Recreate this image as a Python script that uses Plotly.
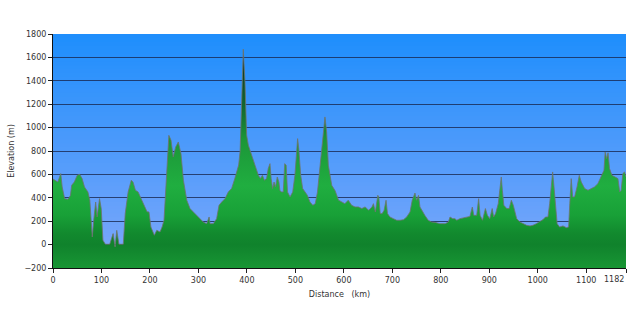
import plotly.graph_objects as go

# ---- data ----
distance_km = [0, 3.5, 10, 16, 19, 24, 31, 36, 38.5, 44, 50, 55, 60, 65, 72, 76, 79, 81, 84, 88,
               91, 96, 99.5, 101, 103, 108, 117, 124, 128, 131.5, 136, 145, 149, 155, 161.5, 165,
               170, 175.5, 182, 190, 194, 198, 202, 209, 214, 220.7, 225, 229, 234.5, 239, 243.5,
               248, 253, 258.5, 264, 269, 276, 282.6, 289.5, 299.7, 310, 317, 322, 324, 330.7,
               337.5, 342.5, 348, 355, 361.6, 368.5, 375, 379, 383, 386, 389, 392.5, 396, 399.5,
               403, 410, 417, 423.6, 428, 432, 436, 440.5, 444, 447.6, 450, 453, 456, 459, 462.6,
               466, 468, 471, 475, 478, 481, 483.7, 489, 494.5, 499, 502.6, 504.6, 507, 511, 515,
               520, 524.7, 530, 536, 541, 545.6, 549, 554, 559, 561, 564.5, 568, 575, 582, 589,
               595.5, 602, 609, 616, 623, 630, 637, 644, 651, 658, 661, 665, 670, 672, 675, 679,
               683, 687, 690, 695, 702, 709, 716, 723, 729.6, 736.5, 741, 746.7, 750, 754, 757,
               762, 767, 774, 781, 788, 798, 809, 815.5, 819, 824.5, 829, 833, 839.5, 846, 853,
               860, 865, 868, 874, 878, 881, 886, 892, 896, 901, 906, 909, 913, 918.5, 922, 924.7,
               927, 930, 936, 941, 945.5, 949.5, 953, 956.5, 963, 970, 977, 984, 990, 997, 1004,
               1011, 1016, 1021, 1024.5, 1028, 1030.7, 1033.5, 1036, 1040, 1045, 1052, 1059,
               1063.6, 1066, 1069, 1072, 1076, 1081, 1085.6, 1089.7, 1096.7, 1103.6, 1110.5, 1117,
               1124, 1131, 1136.6, 1139, 1142, 1145, 1148, 1153, 1160, 1165.4, 1169, 1172, 1175.5,
               1179, 1182]
elevation_m = [560, 550, 535, 607, 492, 393, 387, 421, 507, 535, 592, 601, 564, 492, 450, 379, 150,
               65, 208, 364, 236, 393, 308, 208, 37, 3, 3, 94, -20, 122, 3, 3, 265, 450, 550, 535,
               464, 450, 393, 330, 280, 279, 150, 80, 122, 108, 150, 208, 635, 934, 891, 749, 834,
               877, 778, 550, 379, 308, 279, 236, 193, 179, 236, 179, 179, 222, 336, 364, 393, 450,
               480, 564, 635, 680, 800, 1220, 1670, 1390, 934, 849, 763, 678, 592, 564, 592, 550,
               564, 650, 692, 564, 479, 535, 492, 578, 535, 464, 450, 450, 692, 678, 450, 407, 450,
               592, 849, 906, 820, 592, 479, 450, 421, 364, 336, 350, 450, 592, 820, 1020, 1091,
               962, 678, 507, 460, 380, 364, 350, 379, 336, 322, 322, 308, 322, 293, 322, 350, 279,
               421, 407, 265, 265, 293, 379, 265, 236, 222, 208, 208, 213, 236, 279, 379, 441, 379,
               421, 322, 279, 250, 208, 193, 190, 179, 179, 193, 236, 222, 222, 208, 222, 228, 236,
               241, 321, 250, 250, 393, 250, 208, 308, 250, 222, 308, 236, 265, 350, 492, 578, 464,
               336, 308, 308, 379, 336, 279, 222, 193, 179, 165, 160, 165, 179, 193, 214, 236, 236,
               350, 521, 621, 493, 336, 179, 150, 160, 145, 150, 350, 564, 407, 407, 493, 592, 535,
               479, 464, 479, 493, 521, 578, 635, 791, 735, 785, 650, 592, 578, 564, 450, 464, 607,
               621, 578]

x_tick_values = [0, 100, 200, 300, 400, 500, 600, 700, 800, 900, 1000, 1100, 1182]
x_tick_labels = ["0", "100", "200", "300", "400", "500", "600", "700", "800", "900", "1000", "1100", ""]
end_label = "1182"
y_tick_values = [-200, 0, 200, 400, 600, 800, 1000, 1200, 1400, 1600, 1800]
x_max = 1182
y_min, y_max = -200, 1800

FONT = "DejaVu Sans"

fig = go.Figure()

# baseline for the fill
fig.add_trace(go.Scatter(x=[0, x_max], y=[y_min, y_min], mode="lines",
                         line=dict(width=0, color="rgba(0,0,0,0)"),
                         hoverinfo="skip", showlegend=False))

# elevation profile
span = 1700 - y_min
def p(v):
    return (v - y_min) / span

fig.add_trace(go.Scatter(
    x=distance_km, y=elevation_m, mode="lines", fill="tonexty",
    line=dict(color="rgba(110,115,110,0.8)", width=1),
    fillgradient=dict(type="vertical", start=y_min, stop=1700,
                      colorscale=[[0, "rgb(24,150,52)"],
                                  [p(0), "rgb(16,130,44)"],
                                  [p(100), "rgb(18,138,46)"],
                                  [p(250), "rgb(24,160,55)"],
                                  [p(500), "rgb(32,174,64)"],
                                  [p(900), "rgb(28,150,56)"],
                                  [p(1100), "rgb(20,115,48)"],
                                  [p(1400), "rgb(15,75,40)"],
                                  [1, "rgb(10,30,30)"]]),
    showlegend=False))

# blue vertical gradient of the plot background
shapes = []
N = 60
top = (30, 142, 252)
bot = (128, 168, 250)
for i in range(N):
    t = (i + 0.5) / N  # 0 at bottom, 1 at top
    c = tuple(int(round(bot[k] + (top[k] - bot[k]) * t)) for k in range(3))
    shapes.append(dict(type="rect", xref="paper", yref="paper",
                       x0=0, x1=1, y0=i / N, y1=min(1, (i + 1) / N + 0.004),
                       fillcolor="rgb(%d,%d,%d)" % c, line=dict(width=0), layer="below"))

fig.update_layout(
    width=640, height=318,
    margin=dict(l=53, r=14, t=34, b=50),
    paper_bgcolor="white", plot_bgcolor="white",
    shapes=shapes,
    font=dict(family=FONT, size=8, color="#333333"),
    xaxis=dict(range=[0, x_max], tickmode="array", tickvals=x_tick_values, ticktext=x_tick_labels,
               ticks="outside", ticklen=4, tickcolor="#222222", showline=True, linecolor="#111111",
               linewidth=1, showgrid=False, zeroline=False,
               tickfont=dict(family=FONT, size=8, color="#333333"),
               title=dict(text="Distance\u00a0\u00a0\u00a0(km)", standoff=7,
                          font=dict(family=FONT, size=8, color="#333333"))),
    yaxis=dict(range=[y_min, y_max], tickmode="array", tickvals=y_tick_values,
               ticks="outside", ticklen=4, tickcolor="#222222", showline=True, linecolor="#111111",
               linewidth=1, showgrid=True, gridcolor="rgba(25,40,80,0.8)", gridwidth=1,
               zeroline=False,
               tickfont=dict(family=FONT, size=8, color="#333333"),
               title=dict(text="Elevation (m)", standoff=8,
                          font=dict(family=FONT, size=8, color="#333333"))),
    annotations=[dict(x=x_max, xref="x", y=0, yref="paper", yanchor="top", xanchor="right",
                      yshift=-5, text=end_label, showarrow=False,
                      font=dict(family=FONT, size=8, color="#333333"))],
)

fig.write_html("out.html")
